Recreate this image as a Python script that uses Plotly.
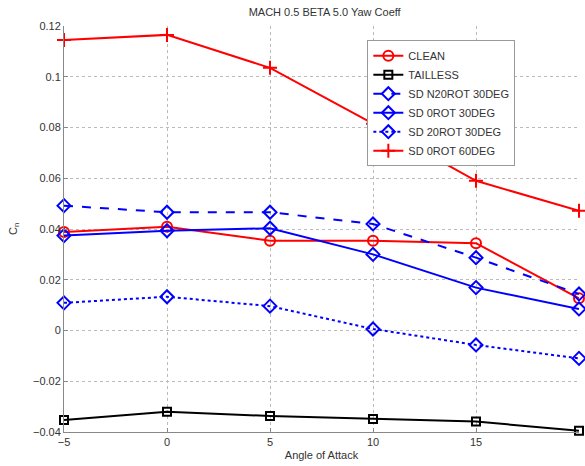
import plotly.graph_objects as go

alpha = [-5, 0, 5, 10, 15, 20]
clean = [0.0388, 0.0409, 0.0354, 0.0354, 0.0344, 0.0127]
tailless = [-0.0353, -0.0320, -0.0337, -0.0349, -0.0359, -0.0395]
sd_n20rot_30 = [0.0492, 0.0466, 0.0466, 0.0420, 0.0287, 0.0144]
sd_0rot_30 = [0.0374, 0.0393, 0.0403, 0.0300, 0.0169, 0.0085]
sd_20rot_30 = [0.0109, 0.0133, 0.0096, 0.0006, -0.0057, -0.0110]
sd_0rot_60 = [0.1145, 0.1165, 0.1035, 0.0815, 0.0590, 0.0472]

series = [
    ("CLEAN", clean, "#ff0000", "solid", "circle-open", 10),
    ("TAILLESS", tailless, "#000000", "solid", "square-open", 8),
    ("SD N20ROT 30DEG", sd_n20rot_30, "#0000ff", "dash", "diamond-open", 10),
    ("SD 0ROT 30DEG", sd_0rot_30, "#0000ff", "solid", "diamond-open", 10),
    ("SD 20ROT 30DEG", sd_20rot_30, "#0000ff", "dot", "diamond-open", 10),
    ("SD 0ROT 60DEG", sd_0rot_60, "#ff0000", "solid", "cross-thin-open", 10),
]

fig = go.Figure()
for name, vals, col, dash, sym, sz in series:
    fig.add_trace(go.Scatter(
        x=alpha, y=vals, name=name, mode="lines+markers",
        line=dict(color=col, width=2, dash=dash),
        marker=dict(symbol=sym, size=sz, color=col, line=dict(color=col, width=2)),
        cliponaxis=False,
    ))

font = "Liberation Sans, Arial, sans-serif"
fig.add_annotation(text="C<sub>n</sub>", xref="paper", yref="paper",
                   x=-0.097, y=0.5, xanchor="center", yanchor="middle",
                   textangle=-90, showarrow=False, font=dict(size=11, color="#333333"))
fig.update_layout(
    width=585, height=466,
    margin=dict(l=64, r=6, t=26, b=34),
    paper_bgcolor="white", plot_bgcolor="white",
    font=dict(family=font, size=11, color="#333333"),
    title=dict(text="MACH 0.5 BETA 5.0 Yaw Coeff", x=0.555, xanchor="center",
               y=0.975, yanchor="middle", font=dict(size=11, color="#333333")),
    showlegend=True,
    legend=dict(x=0.589, y=0.965, xanchor="left", yanchor="top",
                bgcolor="white", bordercolor="#999999", borderwidth=1,
                font=dict(size=11, color="#333333"), tracegroupgap=0),
    xaxis=dict(range=[-5, 20], tickvals=[-5, 0, 5, 10, 15, 20],
               showgrid=True, gridcolor="#bbbbbb", griddash="dot", gridwidth=1,
               showline=True, linecolor="#888888", linewidth=1,
               ticks="inside", ticklen=4, tickcolor="#888888",
               zeroline=False,
               title=dict(text="Angle of Attack", standoff=4, font=dict(size=11))),
    yaxis=dict(range=[-0.04, 0.12], tickvals=[-0.04, -0.02, 0, 0.02, 0.04, 0.06, 0.08, 0.1, 0.12],
               ticktext=["\u22120.04", "\u22120.02", "0", "0.02", "0.04", "0.06", "0.08", "0.1", "0.12"],
               showgrid=True, gridcolor="#bbbbbb", griddash="dot", gridwidth=1,
               showline=True, linecolor="#888888", linewidth=1,
               ticks="inside", ticklen=4, tickcolor="#888888",
               zeroline=False),
)

fig.write_html("out.html")
